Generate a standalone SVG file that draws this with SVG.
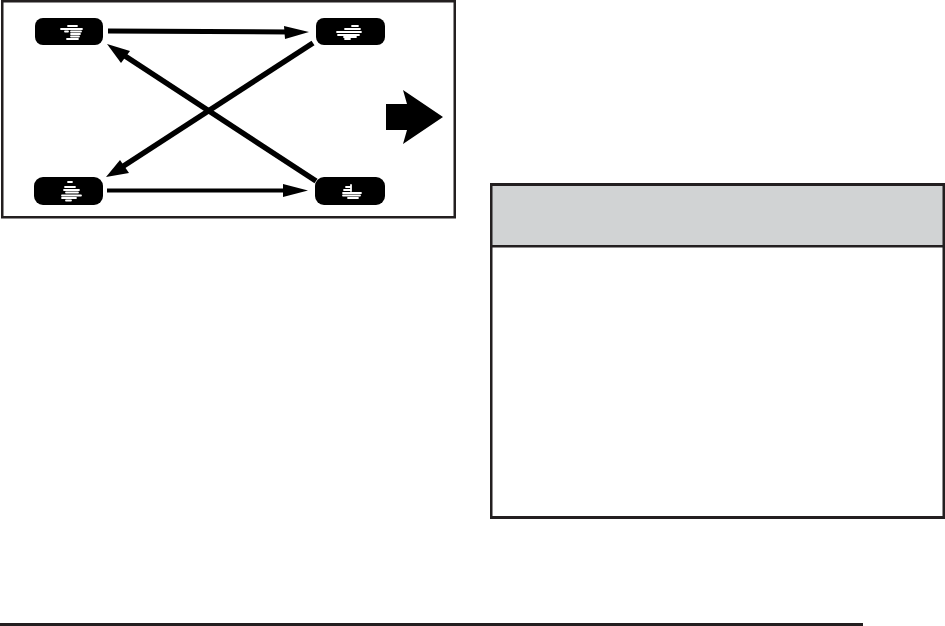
<svg xmlns="http://www.w3.org/2000/svg" width="945" height="626" viewBox="0 0 945 626">
<style>
.node{fill:#000}
.glyph{stroke:#fff;fill:none;stroke-linecap:round;stroke-width:1.800}
.ink{fill:#231f20}
.link{stroke:#000;fill:none}
.head{fill:#000}
</style>
<rect width="945" height="626" fill="#fff"/>
<g id="panel">
<rect class="ink" x="1" y="0" width="455" height="2.500"/>
<rect class="ink" x="1" y="0" width="2.500" height="218"/>
<rect class="ink" x="453.500" y="0" width="2.500" height="218"/>
<rect class="ink" x="1" y="216" width="455" height="2.500"/>
</g>
<g id="connectors">
<line class="link" x1="108" y1="31" x2="290" y2="32" stroke-width="5"/>
<path class="head" d="M309 32 L284 26 L285 39 Z"/>
<line class="link" x1="107" y1="190.500" x2="290" y2="190.500" stroke-width="4"/>
<path class="head" d="M308 190.500 L283 184 L283 197 Z"/>
<line class="link" x1="313" y1="43" x2="122" y2="167" stroke-width="5.500"/>
<path class="head" d="M106 177 L120 160 L129 173 Z"/>
<line class="link" x1="316" y1="181" x2="122" y2="54" stroke-width="5.500"/>
<path class="head" d="M107 44 L130 51 L121 63 Z"/>
</g>
<g id="node-top-left">
<rect class="node" x="35" y="18" width="68" height="27" rx="8"/>
<path class="glyph" d="M68 26H77M61 29H82M65 31.500H68M71 31.500H81M71 34H80M71 36.500H79M67 39H78"/>
</g>
<g id="node-top-right">
<rect class="node" x="316" y="18" width="69" height="27" rx="8"/>
<path class="glyph" d="M352 26H358M345 29H360M337 32H361M338 35H359M344 37H356M345 39H350"/>
</g>
<g id="node-bottom-left">
<rect class="node" x="34" y="177" width="69" height="28" rx="9"/>
<path class="glyph" d="M68 182H72M65 187H75M64 190H79M66 192.500H78M62 195.500H81M62 198H76M66 200.500H71"/>
</g>
<g id="node-bottom-right">
<rect class="node" x="315" y="177" width="70" height="28" rx="9"/>
<path class="glyph" d="M351 185V191M346 187H351M344 190H351M343 193H361M343 195.500H360M348 198H358"/>
</g>
<polygon id="big-arrow" fill="#000" points="386,104 407,104 403,90 443,117 403,144 407,130 386,130"/>
<g id="notice-box">
<rect x="491" y="185" width="453" height="61" fill="#d1d3d4"/>
<rect class="ink" x="490" y="183" width="455" height="3"/>
<rect class="ink" x="490" y="183" width="2.500" height="336"/>
<rect class="ink" x="942.500" y="183" width="2.500" height="336"/>
<rect class="ink" x="490" y="245" width="455" height="2.500"/>
<rect class="ink" x="490" y="516" width="455" height="3"/>
</g>
<rect id="rule" class="ink" x="0" y="623" width="863" height="3"/>
</svg>
